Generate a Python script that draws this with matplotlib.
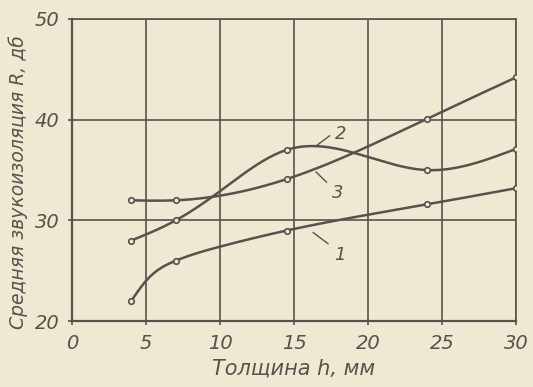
import numpy as np
import matplotlib.pyplot as plt

# thickness h, mm
h = [4, 7, 14.5, 24, 30]
# average sound insulation R, dB
r1 = [22, 26, 29.0, 31.6, 33.2]
r2 = [28, 30, 37.0, 35.0, 37.1]
r3 = [32, 32, 34.1, 40.1, 44.2]

# extra points (no markers there)
h1_extra = [5, 10]
r1_extra = [24.0, 27.4]
h2_extra = [10]
r2_extra = [32.9]

xticks = [0, 5, 10, 15, 20, 25, 30]
yticks = [20, 30, 40, 50]

paper = '#efe9d3'
ink = '#57524c'


def spline(x, y, n=300):
    # natural cubic spline, only used to draw the curve smoothly
    x = np.asarray(x, float)
    y = np.asarray(y, float)
    o = np.argsort(x)
    x, y = x[o], y[o]
    k = len(x)
    hh = np.diff(x)
    A = np.zeros((k, k))
    b = np.zeros(k)
    A[0, 0] = A[-1, -1] = 1
    for i in range(1, k - 1):
        A[i, i - 1] = hh[i - 1]
        A[i, i] = 2 * (hh[i - 1] + hh[i])
        A[i, i + 1] = hh[i]
        b[i] = 6 * ((y[i + 1] - y[i]) / hh[i] - (y[i] - y[i - 1]) / hh[i - 1])
    m = np.linalg.solve(A, b)
    xs = np.linspace(x[0], x[-1], n)
    j = np.clip(np.searchsorted(x, xs) - 1, 0, k - 2)
    t = xs - x[j]
    hj = hh[j]
    ys = (m[j] * (x[j + 1] - xs) ** 3 / (6 * hj) + m[j + 1] * t ** 3 / (6 * hj)
          + (y[j] / hj - m[j] * hj / 6) * (x[j + 1] - xs)
          + (y[j + 1] / hj - m[j + 1] * hj / 6) * t)
    return xs, ys


fig = plt.figure(figsize=(5.33, 3.87), dpi=100, facecolor=paper)
ax = fig.add_axes([0.135, 0.17, 0.833, 0.781], facecolor=paper)

curves = [
    (r1, h1_extra, r1_extra),
    (r2, h2_extra, r2_extra),
    (r3, [], []),
]
for r, hx, rx in curves:
    xs, ys = spline(h + hx, r + rx)
    ax.plot(xs, ys, color=ink, lw=1.8, zorder=3)
    ax.plot(h, r, 'o', ms=4, mfc=paper, mec=ink, mew=1.2, zorder=4)

# curve numbers with leader lines
labels = [
    ('1', (16.3, 28.8), (17.3, 27.7), (17.7, 26.6)),
    ('2', (16.5, 37.4), (17.4, 38.4), (17.8, 38.6)),
    ('3', (16.5, 34.8), (17.2, 33.8), (17.6, 32.7)),
]
for txt, a, b, pos in labels:
    ax.plot([a[0], b[0]], [a[1], b[1]], color=ink, lw=1.0, zorder=3)
    ax.text(pos[0], pos[1], txt, color=ink, fontsize=13, style='italic',
            ha='left', va='center')

ax.set_xlim(0, 30)
ax.set_ylim(20, 50)
ax.set_xticks(xticks)
ax.set_yticks(yticks)
ax.grid(True, color=ink, lw=1.2)
ax.set_axisbelow(True)
for s in ax.spines.values():
    s.set_color(ink)
    s.set_linewidth(1.2)
ax.spines['left'].set_linewidth(1.6)
ax.spines['bottom'].set_linewidth(1.6)
ax.tick_params(length=3, width=1.2, color=ink, labelcolor=ink,
               labelsize=14, pad=6)
for lab in ax.get_xticklabels() + ax.get_yticklabels():
    lab.set_style('italic')

ax.set_xlabel('Толщина h, мм', color=ink, fontsize=15, style='italic',
              labelpad=4)
ax.set_ylabel('Средняя звукоизоляция R, дб', color=ink, fontsize=13.5,
              style='italic')
ax.yaxis.set_label_coords(-0.1, 0.46)

fig.savefig('out.png', dpi=100, facecolor=paper)
